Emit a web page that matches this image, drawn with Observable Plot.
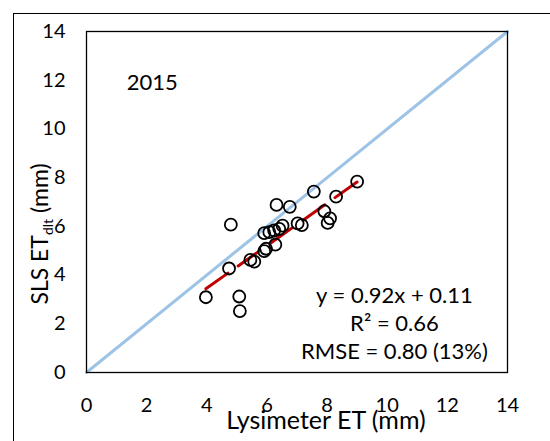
<!DOCTYPE html>
<html>
<head>
<meta charset="utf-8">
<script src="https://cdn.jsdelivr.net/npm/d3@7"></script>
<script src="https://cdn.jsdelivr.net/npm/@observablehq/plot@0.6"></script>
<style>
  html, body { margin: 0; padding: 0; background: #fff; overflow: hidden; }
  #wrap { position: relative; width: 550px; height: 441px; overflow: hidden; }
  #border { position: absolute; left: 13px; top: 13px; width: 700px; height: 600px; border: 1.5px solid #000; box-sizing: border-box; pointer-events: none; }
  #chart { position: absolute; left: 0; top: 0; }
</style>
</head>
<body>
<div id="wrap"><div id="chart"></div><div id="border"></div></div>
<script>
// Data
const lysimeterET = [9.00, 7.56, 8.30, 6.32, 6.76, 4.80, 7.91, 8.10, 8.02, 7.02, 7.16,
  5.91, 6.08, 6.24, 6.41, 6.52, 6.28, 5.97, 5.91, 5.45, 5.58, 4.74, 3.97, 5.08, 5.10];
const slsET = [7.84, 7.43, 7.22, 6.88, 6.80, 6.07, 6.62, 6.33, 6.14, 6.12, 6.05,
  5.72, 5.76, 5.83, 5.90, 6.03, 5.25, 5.08, 4.98, 4.62, 4.55, 4.27, 3.09, 3.12, 2.52];
const trendX = [3.97, 9.0];
const trendY = [3.44, 7.82];
const oneToOneX = [0, 14];
const oneToOneY = [0, 14];
const tickValues = [0, 2, 4, 6, 8, 10, 12, 14];
const yearLabel = "2015";
const statsLines = ["y = 0.92x + 0.11", "R² = 0.66", "RMSE = 0.80 (13%)"];
const xLabel = "Lysimeter ET (mm)";
const yLabelMain = "SLS ET";
const yLabelSub = "dlt";
const yLabelUnit = " (mm)";

const points = lysimeterET.map((x, i) => ({x, y: slsET[i]}));
const trend = trendX.map((x, i) => ({x, y: trendY[i]}));
const oneToOne = oneToOneX.map((x, i) => ({x, y: oneToOneY[i]}));

const font = "Lato, 'Open Sans', sans-serif";

const chart = Plot.plot({
  width: 550,
  height: 441,
  marginLeft: 86,
  marginRight: 43,
  marginTop: 31,
  marginBottom: 69,
  style: {fontFamily: font, fontSize: "20px", color: "#000", background: "transparent"},
  x: {domain: [0, 14], ticks: tickValues, tickSize: 0, tickPadding: 25, label: null},
  y: {domain: [0, 14], ticks: tickValues, tickSize: 0, tickPadding: 21, label: null},
  marks: [
    Plot.line(oneToOne, {x: "x", y: "y", stroke: "#9DC3E6", strokeWidth: 3}),
    Plot.line(trend, {x: "x", y: "y", stroke: "#C00000", strokeWidth: 3, strokeDasharray: "27,12.5"}),
    Plot.dot(points, {x: "x", y: "y", r: 6, stroke: "#000", strokeWidth: 1.8, fill: "none"}),
    Plot.frame({stroke: "#000", strokeWidth: 1.3}),
    Plot.text([yearLabel], {x: 2.19, y: 11.9, text: d => d, fontSize: 22, fill: "#000"}),
    Plot.text([statsLines.join("\n")], {x: 10.24, y: 2.07, text: d => d, fontSize: 22, lineHeight: 1.28, fill: "#000"}),
    Plot.text([xLabel], {frameAnchor: "bottom", dx: 29, dy: 56, text: d => d, fontSize: 25, fill: "#000"})
  ]
});
document.getElementById("chart").appendChild(chart);

// rotated y-axis label with subscript
const svg = d3.select(chart);
const t = svg.append("text")
  .attr("transform", "translate(48,234) rotate(-90)")
  .attr("text-anchor", "middle")
  .attr("font-family", font)
  .attr("font-size", 23)
  .attr("fill", "#000");
t.append("tspan").text(yLabelMain);
t.append("tspan").attr("font-size", 14).attr("dy", 5).text(yLabelSub);
t.append("tspan").attr("dy", -5).text(yLabelUnit);
</script>
</body>
</html>
